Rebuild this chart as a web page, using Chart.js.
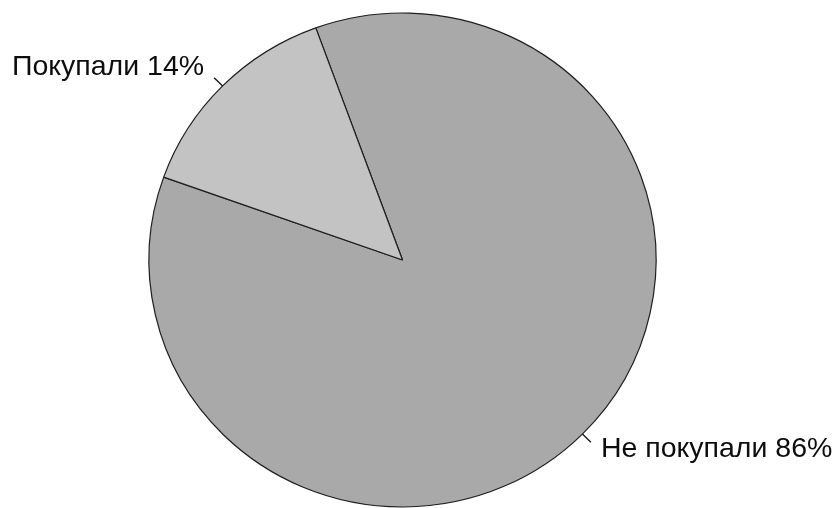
<!DOCTYPE html>
<html lang="ru">
<head>
<meta charset="utf-8">
<title>Покупали / Не покупали</title>
<script src="https://cdn.jsdelivr.net/npm/chart.js@4/dist/chart.umd.min.js"></script>
<style>
    html, body { margin: 0; padding: 0; background: #fff; }
    #wrap { position: relative; width: 835px; height: 508px; }
</style>
</head>
<body>
<div id="wrap"><canvas id="pieChart"></canvas></div>
<script>
// Доли респондентов (%)
const categories = ['Не покупали', 'Покупали'];
const shares = [86, 14];
const sliceColors = ['#a9a9a9', '#c3c3c3'];

// круг чуть сплюснут по вертикали
const squash = 247 / 253.5;

const squashPlugin = {
    id: 'squash',
    beforeDatasetsDraw(chart) {
        const ctx = chart.ctx;
        const arc = chart.getDatasetMeta(0).data[0];
        ctx.save();
        ctx.translate(arc.x, arc.y);
        ctx.scale(1, squash);
        ctx.translate(-arc.x, -arc.y);
    },
    afterDatasetsDraw(chart) {
        chart.ctx.restore();
    }
};

// подписи с короткими выносками
const calloutPlugin = {
    id: 'callouts',
    afterDraw(chart) {
        const ctx = chart.ctx;
        const meta = chart.getDatasetMeta(0);
        ctx.save();
        ctx.font = '28.5px "Liberation Sans", Arial, sans-serif';
        ctx.fillStyle = '#0d0d0d';
        ctx.strokeStyle = '#111';
        ctx.lineWidth = 1.3;
        meta.data.forEach((arc, i) => {
            const p = arc.getProps(['x', 'y', 'startAngle', 'endAngle', 'outerRadius'], true);
            const mid = (p.startAngle + p.endAngle) / 2;
            const cos = Math.cos(mid), sin = Math.sin(mid);
            const x0 = p.x + cos * p.outerRadius;
            const y0 = p.y + sin * p.outerRadius * squash;
            const x1 = p.x + cos * (p.outerRadius + 12);
            const y1 = p.y + sin * (p.outerRadius + 12) * squash;
            ctx.beginPath();
            ctx.moveTo(x0, y0);
            ctx.lineTo(x1, y1);
            ctx.stroke();

            const text = categories[i] + ' ' + shares[i] + '%';
            ctx.textAlign = cos >= 0 ? 'left' : 'right';
            ctx.textBaseline = 'alphabetic';
            const tx = cos >= 0 ? x1 + 10 : x1 - 10;
            const ty = sin >= 0 ? y1 + 15 : y1 - 3;
            ctx.fillText(text, tx, ty);
        });
        ctx.restore();
    }
};

const ctx = document.getElementById('pieChart').getContext('2d');
new Chart(ctx, {
    type: 'pie',
    data: {
        labels: categories,
        datasets: [{
            data: shares,
            backgroundColor: sliceColors,
            borderColor: '#1e1e1e',
            borderWidth: 1.2,
            clip: false
        }]
    },
    options: {
        responsive: true,
        maintainAspectRatio: false,
        animation: false,
        rotation: -20,
        radius: 253.5,
        layout: { padding: { left: 0, right: 30, top: 12, bottom: 0 } },
        plugins: {
            legend: { display: false },
            tooltip: { enabled: false }
        }
    },
    plugins: [squashPlugin, calloutPlugin]
});
</script>
</body>
</html>
